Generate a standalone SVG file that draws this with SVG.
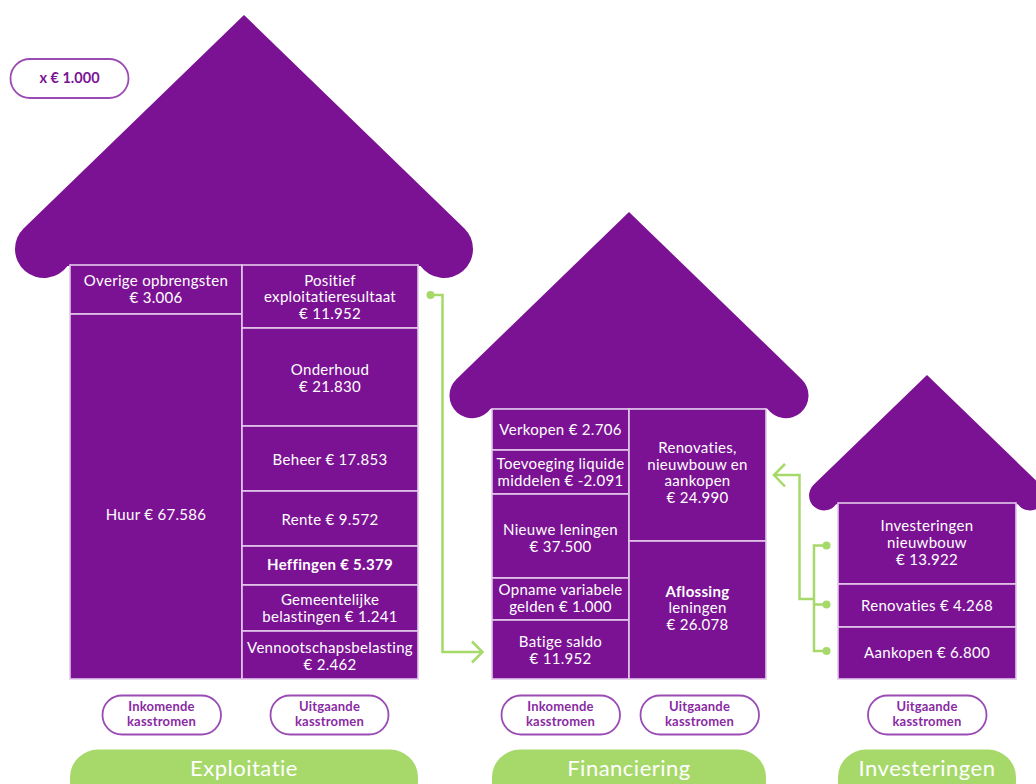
<svg xmlns="http://www.w3.org/2000/svg" xmlns:xlink="http://www.w3.org/1999/xlink" width="1036" height="784" viewBox="0 0 1036 784">
<style>
.roof{fill:#7b1294}
.cell{fill:#7b1294;stroke:#e3c9ea;stroke-width:1.6}
.t{font-family:Lato,"Noto Sans",sans-serif;font-size:15px;fill:#ffffff;text-anchor:middle;letter-spacing:0.3px}
.b{font-weight:700}
.pill{fill:#ffffff;stroke:#9a4cb4;stroke-width:1.8}
.pt{font-family:Lato,"Noto Sans",sans-serif;font-size:13px;font-weight:700;fill:#8a2aa3;text-anchor:middle;letter-spacing:0.2px}
.gp{fill:#a6d96a}
.gt{font-family:Lato,"Noto Sans",sans-serif;font-size:22px;fill:#ffffff;text-anchor:middle;letter-spacing:0.5px}
.con{fill:none;stroke:#a6d96a;stroke-width:2.5;stroke-linejoin:miter}
.dot{fill:#a6d96a}
</style>
<defs>
<path id="roof" d="M0,0 L-220.2,213.2 A29,29 0 1 0 -176.5,251 L176.5,251 A29,29 0 1 0 220.2,213.2 Z"/>
</defs>
<rect width="1036" height="784" fill="#ffffff"/>

<g id="legend">
<rect class="pill" x="10.5" y="59" width="118" height="39" rx="19.5"/>
<text x="69.5" y="83" font-family="Lato,'Noto Sans',sans-serif" font-size="14.5" font-weight="700" fill="#7b1294" text-anchor="middle">x € 1.000</text>
</g>

<g id="house-exploitatie">
<use xlink:href="#roof" href="#roof" class="roof" transform="translate(244,15)"/>
<g id="overige"><rect class="cell" x="70" y="265" width="172" height="49"/>
<text class="t" x="156" y="286">Overige opbrengsten</text><text class="t" x="156" y="303">€ 3.006</text></g>
<g id="huur"><rect class="cell" x="70" y="314" width="172" height="365"/>
<text class="t" x="156" y="520">Huur € 67.586</text></g>
<g id="positief"><rect class="cell" x="242" y="265" width="176" height="63"/>
<text class="t" x="330" y="286">Positief</text><text class="t" x="330" y="302">exploitatieresultaat</text><text class="t" x="330" y="319">€ 11.952</text></g>
<g id="onderhoud"><rect class="cell" x="242" y="328" width="176" height="98"/>
<text class="t" x="330" y="375">Onderhoud</text><text class="t" x="330" y="392">€ 21.830</text></g>
<g id="beheer"><rect class="cell" x="242" y="426" width="176" height="65"/>
<text class="t" x="330" y="465">Beheer € 17.853</text></g>
<g id="rente"><rect class="cell" x="242" y="491" width="176" height="55"/>
<text class="t" x="330" y="525">Rente € 9.572</text></g>
<g id="heffingen"><rect class="cell" x="242" y="546" width="176" height="39"/>
<text class="t b" x="330" y="570">Heffingen € 5.379</text></g>
<g id="gemeentelijke"><rect class="cell" x="242" y="585" width="176" height="46"/>
<text class="t" x="330" y="605">Gemeentelijke</text><text class="t" x="330" y="622">belastingen € 1.241</text></g>
<g id="vennootschapsbelasting"><rect class="cell" x="242" y="631" width="176" height="48"/>
<text class="t" x="330" y="653">Vennootschapsbelasting</text><text class="t" x="330" y="670">€ 2.462</text></g>
</g>

<g id="house-financiering">
<use xlink:href="#roof" href="#roof" class="roof" transform="translate(629,212) scale(0.784)"/>
<g id="verkopen"><rect class="cell" x="492" y="409" width="137" height="41"/>
<text class="t" x="560.5" y="435">Verkopen € 2.706</text></g>
<g id="toevoeging"><rect class="cell" x="492" y="450" width="137" height="44"/>
<text class="t" x="560.5" y="469">Toevoeging liquide</text><text class="t" x="560.5" y="486">middelen € -2.091</text></g>
<g id="nieuwe-leningen"><rect class="cell" x="492" y="494" width="137" height="84"/>
<text class="t" x="560.5" y="535">Nieuwe leningen</text><text class="t" x="560.5" y="552">€ 37.500</text></g>
<g id="opname"><rect class="cell" x="492" y="578" width="137" height="42"/>
<text class="t" x="560.5" y="595">Opname variabele</text><text class="t" x="560.5" y="612">gelden € 1.000</text></g>
<g id="batige-saldo"><rect class="cell" x="492" y="620" width="137" height="59"/>
<text class="t" x="560.5" y="647">Batige saldo</text><text class="t" x="560.5" y="664">€ 11.952</text></g>
<g id="renovaties-fin"><rect class="cell" x="629" y="409" width="137" height="132"/>
<text class="t" x="697.5" y="453">Renovaties,</text><text class="t" x="697.5" y="470">nieuwbouw en</text><text class="t" x="697.5" y="486">aankopen</text><text class="t" x="697.5" y="503">€ 24.990</text></g>
<g id="aflossing"><rect class="cell" x="629" y="541" width="137" height="138"/>
<text class="t b" x="697.5" y="597">Aflossing</text><text class="t" x="697.5" y="613">leningen</text><text class="t" x="697.5" y="630">€ 26.078</text></g>
</g>

<g id="house-investeringen">
<use xlink:href="#roof" href="#roof" class="roof" transform="translate(927,375) scale(0.515)"/>
<g id="investeringen-nieuwbouw"><rect class="cell" x="838" y="503" width="178" height="81"/>
<text class="t" x="927" y="531">Investeringen</text><text class="t" x="927" y="548">nieuwbouw</text><text class="t" x="927" y="565">€ 13.922</text></g>
<g id="renovaties-inv"><rect class="cell" x="838" y="584" width="178" height="43"/>
<text class="t" x="927" y="611">Renovaties € 4.268</text></g>
<g id="aankopen"><rect class="cell" x="838" y="627" width="178" height="52"/>
<text class="t" x="927" y="658">Aankopen € 6.800</text></g>
</g>

<g id="connectors">
<circle class="dot" cx="430.5" cy="295" r="4"/>
<path class="con" d="M430.5,295 H442.5 V652 H482"/>
<path class="con" d="M472,641.5 L482.5,652 L472,662.5"/>
<path class="con" d="M773.5,475 H799.5 V599 H814"/>
<path class="con" d="M785,464 L774,475 L785,486.5"/>
<path class="con" d="M826.5,545.5 H814 V651 H826.5 M814,604.5 H826.5"/>
<circle class="dot" cx="826.5" cy="545.5" r="4"/>
<circle class="dot" cx="826.5" cy="604.5" r="4"/>
<circle class="dot" cx="826.5" cy="651" r="4"/>
</g>

<g id="labels">
<g id="lbl-exp-in"><rect class="pill" x="102.5" y="695.5" width="118.5" height="39" rx="19.5"/>
<text class="pt" x="161.5" y="711">Inkomende</text><text class="pt" x="161.5" y="726">kasstromen</text></g>
<g id="lbl-exp-out"><rect class="pill" x="270.5" y="695.5" width="118" height="39" rx="19.5"/>
<text class="pt" x="329.5" y="711">Uitgaande</text><text class="pt" x="329.5" y="726">kasstromen</text></g>
<g id="lbl-fin-in"><rect class="pill" x="501.5" y="695.5" width="118.5" height="39" rx="19.5"/>
<text class="pt" x="560.5" y="711">Inkomende</text><text class="pt" x="560.5" y="726">kasstromen</text></g>
<g id="lbl-fin-out"><rect class="pill" x="640.5" y="695.5" width="118.5" height="39" rx="19.5"/>
<text class="pt" x="699.5" y="711">Uitgaande</text><text class="pt" x="699.5" y="726">kasstromen</text></g>
<g id="lbl-inv-out"><rect class="pill" x="868" y="695.5" width="118.5" height="39" rx="19.5"/>
<text class="pt" x="927" y="711">Uitgaande</text><text class="pt" x="927" y="726">kasstromen</text></g>
<g id="cat-exploitatie"><rect class="gp" x="70" y="749.5" width="348" height="60" rx="28"/>
<text class="gt" x="244" y="776">Exploitatie</text></g>
<g id="cat-financiering"><rect class="gp" x="492" y="749.5" width="274" height="60" rx="28"/>
<text class="gt" x="629" y="776">Financiering</text></g>
<g id="cat-investeringen"><rect class="gp" x="838" y="749.5" width="178" height="60" rx="28"/>
<text class="gt" x="927" y="776">Investeringen</text></g>
</g>
</svg>
